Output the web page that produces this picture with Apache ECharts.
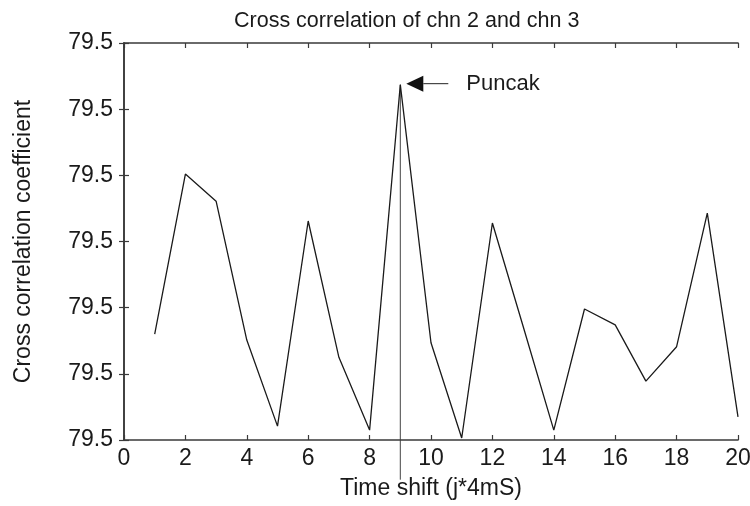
<!DOCTYPE html>
<html>
<head>
<meta charset="utf-8">
<script src="https://cdn.jsdelivr.net/npm/echarts@6/dist/echarts.min.js"></script>
<style>html,body{margin:0;padding:0;background:#fff}#c{width:750px;height:506px}</style>
</head>
<body>
<div id="c"></div>
<script>
var titleText = 'Cross correlation of chn 2 and chn 3';
var xName = 'Time shift (j*4mS)';
var yName = 'Cross correlation coefficient';
var timeShift = [1,2,3,4,5,6,7,8,9,10,11,12,13,14,15,16,17,18,19,20];
var coeff = [79.4960,79.5202,79.5161,79.4951,79.4821,79.5131,79.4925,79.4815,79.5337,79.4947,
             79.4803,79.5128,79.4972,79.4815,79.4998,79.4974,79.4889,79.4941,79.5143,79.4835];
var peakLabel = 'Puncak';
var peakIndex = 8;

var font = 'Liberation Sans, Arial, Helvetica, sans-serif';
var chart = echarts.init(document.getElementById('c'), null, {renderer:'canvas'});
var axisCol = '#3a3a3a';
var txt = '#1a1a1a';
var data = timeShift.map(function(t,i){return [t, coeff[i]];});
chart.setOption({
  animation:false,
  backgroundColor:'#fff',
  title:{text:titleText,left:229,top:5,textStyle:{fontFamily:font,fontSize:21.5,fontWeight:'normal',color:txt}},
  grid:{left:124,right:12,top:43,bottom:66,containLabel:false,outerBoundsMode:'none'},
  xAxis:[{
    type:'value',min:0,max:20,interval:2,
    name:xName,nameLocation:'middle',nameGap:37,
    nameTextStyle:{fontFamily:font,fontSize:23,color:txt},
    axisLine:{lineStyle:{color:axisCol,width:1.6}},
    axisTick:{inside:true,length:5,lineStyle:{color:axisCol,width:1.2}},
    axisLabel:{fontFamily:font,fontSize:23,color:txt,margin:7},
    splitLine:{show:false}
  },{
    type:'value',min:0,max:20,interval:2,position:'top',
    axisLine:{show:true,lineStyle:{color:axisCol,width:1.6}},
    axisTick:{inside:true,length:5,lineStyle:{color:axisCol,width:1.2}},
    axisLabel:{show:false},splitLine:{show:false}
  }],
  yAxis:[{
    type:'value',min:79.48,max:79.54,interval:0.01,
    name:yName,nameLocation:'middle',nameGap:89,
    nameTextStyle:{fontFamily:font,fontSize:23,color:txt},
    axisLine:{show:true,lineStyle:{color:axisCol,width:1.6}},
    axisTick:{show:true,inside:true,length:5,lineStyle:{color:axisCol,width:1.2}},
    axisLabel:{fontFamily:font,fontSize:23,color:txt,margin:11,formatter:function(v){return v.toFixed(1);}},
    splitLine:{show:false}
  },{
    type:'value',min:79.48,max:79.54,interval:0.01,position:'right',
    axisLine:{show:true,lineStyle:{color:axisCol,width:1.6}},
    axisTick:{show:true,inside:true,length:5,lineStyle:{color:axisCol,width:1.2}},
    axisLabel:{show:false},splitLine:{show:false}
  }],
  series:[{
    type:'line',data:data,showSymbol:false,symbol:'none',
    lineStyle:{color:'#1a1a1a',width:1.3},z:3
  }]
});

var peak = chart.convertToPixel({xAxisIndex:0,yAxisIndex:0},[timeShift[peakIndex],coeff[peakIndex]]);
var px = peak[0], py = peak[1];
chart.setOption({graphic:[
  {type:'line',shape:{x1:px,y1:py,x2:px,y2:py+395},style:{stroke:'#444',lineWidth:1}},
  {type:'polygon',shape:{points:[[px+6,py-1],[px+23,py-9],[px+23,py+7]]},style:{fill:'#111'}},
  {type:'line',shape:{x1:px+23,y1:py-1,x2:px+48,y2:py-1},style:{stroke:'#222',lineWidth:1}},
  {type:'text',style:{text:peakLabel,x:px+66,y:py-1,textVerticalAlign:'middle',font:'22px '+font,fill:txt}}
]});
</script>
</body>
</html>
